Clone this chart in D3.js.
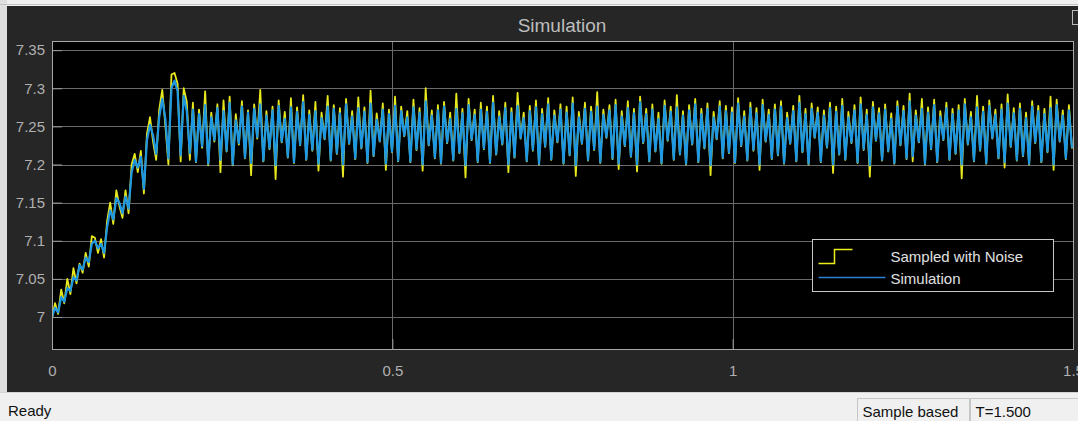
<!DOCTYPE html>
<html>
<head>
<meta charset="utf-8">
<script src="https://cdn.jsdelivr.net/npm/d3@7"></script>
<style>
  body { margin: 0; overflow: hidden; background: #f0f0f0; }
  svg { display: block; font-family: "Liberation Sans", Arial, sans-serif; }
</style>
</head>
<body>
<svg id="scope" width="1078" height="421"></svg>
<script>
// sample based scope, one value every sampleTime seconds
const sampleTime = 0.0045;

const simulation = [
  7.000, 7.012, 7.006, 7.026, 7.020, 7.038, 7.034, 7.052, 7.048, 7.068, 7.062, 7.078, 7.072, 7.096, 7.100, 7.090,
  7.096, 7.084, 7.118, 7.140, 7.128, 7.156, 7.150, 7.136, 7.158, 7.142, 7.190, 7.206, 7.196, 7.210, 7.168, 7.232,
  7.252, 7.238, 7.214, 7.262, 7.286, 7.260, 7.208, 7.300, 7.310, 7.296, 7.212, 7.290, 7.270, 7.215,
  7.272, 7.204, 7.266, 7.224, 7.278, 7.201, 7.262, 7.232, 7.274, 7.206, 7.270, 7.218, 7.281, 7.200, 7.258, 7.228,
  7.276, 7.209, 7.268, 7.202, 7.273, 7.236, 7.279, 7.205, 7.264, 7.221, 7.271, 7.199, 7.277, 7.230, 7.260, 7.210,
  7.275, 7.203, 7.269, 7.226, 7.282, 7.207, 7.265, 7.219, 7.270, 7.201, 7.261, 7.234, 7.276, 7.206, 7.273, 7.215,
  7.267, 7.200, 7.279, 7.228, 7.263, 7.208, 7.274, 7.222, 7.269, 7.203, 7.280, 7.212, 7.259, 7.231, 7.272, 7.201,
  7.266, 7.217, 7.277, 7.205, 7.270, 7.238, 7.262, 7.204, 7.275, 7.220, 7.268, 7.200, 7.283, 7.226, 7.264, 7.209,
  7.271, 7.202, 7.276, 7.229, 7.260, 7.206, 7.273, 7.216, 7.267, 7.199, 7.278, 7.233, 7.265, 7.204, 7.272, 7.221,
  7.269, 7.203, 7.281, 7.214, 7.263, 7.227, 7.274, 7.200, 7.268, 7.210, 7.277, 7.235, 7.261, 7.205, 7.270, 7.219,
  7.275, 7.201, 7.266, 7.224, 7.279, 7.207, 7.264, 7.230, 7.272, 7.202, 7.268, 7.213, 7.280, 7.199, 7.262, 7.228,
  7.273, 7.206, 7.269, 7.220, 7.276, 7.203, 7.265, 7.236, 7.271, 7.208, 7.278, 7.201, 7.263, 7.225, 7.274, 7.211,
  7.267, 7.200, 7.282, 7.229, 7.266, 7.205, 7.272, 7.218, 7.260, 7.202, 7.277, 7.232, 7.269, 7.207, 7.275, 7.214,
  7.264, 7.201, 7.271, 7.227, 7.279, 7.204, 7.266, 7.222, 7.273, 7.199, 7.262, 7.234, 7.276, 7.209, 7.270, 7.216,
  7.268, 7.203, 7.280, 7.225, 7.263, 7.206, 7.274, 7.219, 7.267, 7.200, 7.278, 7.231, 7.265, 7.208, 7.272, 7.213,
  7.276, 7.202, 7.261, 7.228, 7.270, 7.205, 7.281, 7.217, 7.266, 7.201, 7.273, 7.236, 7.268, 7.204, 7.264, 7.223,
  7.274, 7.200, 7.269, 7.214, 7.277, 7.207, 7.262, 7.229, 7.271, 7.203, 7.279, 7.220, 7.265, 7.199, 7.275, 7.232,
  7.267, 7.206, 7.272, 7.218, 7.260, 7.202, 7.276, 7.226, 7.270, 7.208, 7.283, 7.211, 7.264, 7.230, 7.273, 7.201,
  7.268, 7.221, 7.278, 7.204, 7.263, 7.233, 7.274, 7.207, 7.266, 7.215, 7.271, 7.200, 7.279, 7.227, 7.262, 7.205,
  7.275, 7.219, 7.269, 7.202, 7.277, 7.235, 7.265, 7.209, 7.272, 7.203, 7.280, 7.224, 7.267, 7.206, 7.273, 7.212,
  7.261, 7.201, 7.276, 7.229, 7.270, 7.204, 7.266, 7.217, 7.274, 7.200, 7.278, 7.231, 7.264, 7.208, 7.271, 7.222
];

const sampledNoise = [
  6.998, 7.018, 7.004, 7.036, 7.018, 7.050, 7.030, 7.064, 7.044, 7.070, 7.058, 7.084, 7.066, 7.106, 7.104, 7.084,
  7.102, 7.078, 7.126, 7.150, 7.122, 7.166, 7.146, 7.130, 7.166, 7.136, 7.200, 7.214, 7.190, 7.218, 7.162, 7.240,
  7.262, 7.230, 7.206, 7.272, 7.298, 7.252, 7.200, 7.318, 7.320, 7.306, 7.204, 7.300, 7.282, 7.206,
  7.281, 7.203, 7.272, 7.222, 7.296, 7.199, 7.268, 7.230, 7.279, 7.190, 7.284, 7.217, 7.289, 7.199, 7.266, 7.226,
  7.283, 7.208, 7.271, 7.186, 7.279, 7.234, 7.298, 7.204, 7.270, 7.220, 7.276, 7.181, 7.284, 7.229, 7.269, 7.209,
  7.287, 7.202, 7.275, 7.225, 7.291, 7.206, 7.271, 7.218, 7.282, 7.192, 7.268, 7.233, 7.290, 7.205, 7.278, 7.214,
  7.274, 7.184, 7.286, 7.227, 7.270, 7.207, 7.288, 7.221, 7.275, 7.202, 7.297, 7.211, 7.267, 7.230, 7.280, 7.193,
  7.272, 7.216, 7.289, 7.204, 7.276, 7.237, 7.270, 7.203, 7.285, 7.219, 7.274, 7.192, 7.300, 7.225, 7.271, 7.208,
  7.278, 7.201, 7.282, 7.228, 7.268, 7.205, 7.293, 7.215, 7.273, 7.183, 7.286, 7.232, 7.272, 7.203, 7.281, 7.220,
  7.276, 7.202, 7.290, 7.213, 7.270, 7.226, 7.281, 7.190, 7.274, 7.209, 7.294, 7.234, 7.268, 7.204, 7.277, 7.218,
  7.284, 7.200, 7.273, 7.223, 7.287, 7.206, 7.271, 7.229, 7.279, 7.201, 7.276, 7.212, 7.288, 7.185, 7.269, 7.227,
  7.281, 7.205, 7.276, 7.219, 7.295, 7.202, 7.272, 7.235, 7.278, 7.207, 7.285, 7.194, 7.270, 7.224, 7.283, 7.210,
  7.273, 7.191, 7.289, 7.228, 7.273, 7.204, 7.279, 7.217, 7.268, 7.201, 7.284, 7.231, 7.276, 7.206, 7.291, 7.213,
  7.270, 7.200, 7.278, 7.226, 7.286, 7.203, 7.273, 7.221, 7.280, 7.186, 7.269, 7.233, 7.283, 7.208, 7.277, 7.215,
  7.275, 7.202, 7.287, 7.224, 7.270, 7.205, 7.281, 7.218, 7.274, 7.193, 7.285, 7.230, 7.272, 7.207, 7.279, 7.212,
  7.283, 7.201, 7.268, 7.227, 7.277, 7.204, 7.290, 7.216, 7.273, 7.200, 7.280, 7.235, 7.275, 7.203, 7.271, 7.222,
  7.281, 7.189, 7.276, 7.213, 7.286, 7.206, 7.269, 7.228, 7.278, 7.202, 7.288, 7.219, 7.272, 7.184, 7.282, 7.231,
  7.274, 7.205, 7.279, 7.217, 7.267, 7.201, 7.283, 7.225, 7.277, 7.207, 7.293, 7.204, 7.271, 7.229, 7.286, 7.200,
  7.275, 7.220, 7.285, 7.203, 7.270, 7.232, 7.281, 7.206, 7.273, 7.214, 7.278, 7.182, 7.286, 7.226, 7.269, 7.204,
  7.290, 7.218, 7.276, 7.201, 7.284, 7.234, 7.272, 7.208, 7.279, 7.196, 7.292, 7.223, 7.274, 7.205, 7.280, 7.211,
  7.268, 7.200, 7.283, 7.228, 7.277, 7.203, 7.273, 7.216, 7.289, 7.193, 7.285, 7.230, 7.271, 7.207, 7.278, 7.221
];

const xTicks = [0, 0.5, 1, 1.5];
const yTicks = [7, 7.05, 7.1, 7.15, 7.2, 7.25, 7.3, 7.35];
const legendNames = ["Sampled with Noise", "Simulation"];
const statusText = "Ready";
const modeText = "Sample based";
const timeText = "T=1.500";

const svg = d3.select("#scope");
const W = 1078, H = 421;
const plot = { left: 52, top: 41, right: 1073, bottom: 349 };

// window chrome
svg.append("rect").attr("width", W).attr("height", H).attr("fill", "#f0f0f0");
svg.append("rect").attr("x", 0).attr("y", 0).attr("width", 7).attr("height", 392).attr("fill", "#dedede");
svg.append("line").attr("x1", 0).attr("x2", W).attr("y1", 4.5).attr("y2", 4.5).attr("stroke", "#c4c4c4");
svg.append("rect").attr("x", 7).attr("y", 6).attr("width", W - 7).attr("height", 386).attr("fill", "#262626");
svg.append("rect")
  .attr("x", 1072.5).attr("y", 10.5).attr("width", 10).attr("height", 14)
  .attr("fill", "none").attr("stroke", "#b8b8b8");

svg.append("text")
  .attr("x", 562).attr("y", 32)
  .attr("text-anchor", "middle")
  .attr("font-size", 19)
  .attr("fill", "#bdbdbd")
  .text("Simulation");

const x = d3.scaleLinear().domain([0, 1.5]).range([plot.left, plot.right]);
const y = d3.scaleLinear().domain([6.958, 7.362]).range([plot.bottom, plot.top]);

svg.append("rect")
  .attr("x", plot.left).attr("y", plot.top)
  .attr("width", plot.right - plot.left).attr("height", plot.bottom - plot.top)
  .attr("fill", "#000");

// grid
const grid = svg.append("g").attr("stroke", "#6a6a6a").attr("stroke-width", 1);
grid.selectAll(".gy").data(yTicks).join("line")
  .attr("x1", plot.left).attr("x2", plot.right)
  .attr("y1", (d) => Math.round(y(d)) + 0.5).attr("y2", (d) => Math.round(y(d)) + 0.5);
grid.selectAll(".gx").data(xTicks.slice(1, -1)).join("line")
  .attr("y1", plot.top).attr("y2", plot.bottom)
  .attr("x1", (d) => Math.round(x(d)) + 0.5).attr("x2", (d) => Math.round(x(d)) + 0.5);

// axes
const yAxis = svg.append("g")
  .attr("transform", `translate(${plot.left}, 0)`)
  .call(d3.axisLeft(y).tickValues(yTicks).tickSize(-10).tickPadding(7).tickSizeOuter(0).tickFormat(d3.format("")));
const xAxis = svg.append("g")
  .attr("transform", `translate(0, ${plot.bottom})`)
  .call(d3.axisBottom(x).tickValues(xTicks).tickSize(-10).tickPadding(16).tickSizeOuter(0).tickFormat(d3.format("")));

for (const ax of [xAxis, yAxis]) {
  ax.select(".domain").remove();
  ax.selectAll("line").attr("stroke", "#9a9a9a");
  ax.selectAll("text")
    .attr("fill", "#b0b0b0")
    .style("font-size", "15px")
    .style("font-family", '"Liberation Sans", Arial, sans-serif');
}

// data lines
svg.append("clipPath").attr("id", "clip")
  .append("rect")
  .attr("x", plot.left).attr("y", plot.top)
  .attr("width", plot.right - plot.left).attr("height", plot.bottom - plot.top);

const lines = svg.append("g").attr("clip-path", "url(#clip)");

// the noisy samples are dense enough that their stairs read as a trace
const noiseLine = d3.line()
  .x((d, i) => x(i * sampleTime))
  .y((d) => y(d));

const simLine = d3.line()
  .x((d, i) => x(i * sampleTime))
  .y((d) => y(d));

lines.append("path")
  .datum(sampledNoise)
  .attr("d", noiseLine)
  .attr("fill", "none")
  .attr("stroke", "#e8e81e")
  .attr("stroke-width", 1.8)
  .attr("stroke-linejoin", "round");

lines.append("path")
  .datum(simulation)
  .attr("d", simLine)
  .attr("fill", "none")
  .attr("stroke", "#1f98e3")
  .attr("stroke-width", 2.2)
  .attr("stroke-linejoin", "round");

// plot box
svg.append("rect")
  .attr("x", plot.left + 0.5).attr("y", plot.top + 0.5)
  .attr("width", plot.right - plot.left).attr("height", plot.bottom - plot.top)
  .attr("fill", "none").attr("stroke", "#a8a8a8");

// legend
const legend = svg.append("g").attr("transform", "translate(812.5, 239.5)");
legend.append("rect")
  .attr("width", 241).attr("height", 52)
  .attr("fill", "#000").attr("stroke", "#c8c8c8");
legend.append("path")
  .attr("d", "M6,24H22V10H40")
  .attr("fill", "none").attr("stroke", "#eded1c").attr("stroke-width", 1.5);
legend.append("line")
  .attr("x1", 6).attr("x2", 73).attr("y1", 38).attr("y2", 38)
  .attr("stroke", "#2b7fd4").attr("stroke-width", 1.5);
legend.selectAll("text").data(legendNames).join("text")
  .attr("x", 78)
  .attr("y", (d, i) => 22 + i * 22)
  .attr("font-size", 15)
  .attr("fill", "#e0e0e0")
  .text((d) => d);

// status bar
svg.append("line").attr("x1", 0).attr("x2", W).attr("y1", 392.5).attr("y2", 392.5).attr("stroke", "#d4d4d4");
svg.append("text").attr("x", 8).attr("y", 416).attr("font-size", 15).attr("fill", "#111").text(statusText);
const boxes = [
  { x: 857, w: 112, label: modeText },
  { x: 970, w: 110, label: timeText },
];
const status = svg.selectAll(".status").data(boxes).join("g")
  .attr("transform", (d) => `translate(${d.x + 0.5}, 398.5)`);
status.append("rect")
  .attr("width", (d) => d.w).attr("height", 24)
  .attr("fill", "#f0f0f0").attr("stroke", "#c6c6c6");
status.append("text")
  .attr("x", 5).attr("y", 18)
  .attr("font-size", 15).attr("fill", "#111")
  .text((d) => d.label);
</script>
</body>
</html>
